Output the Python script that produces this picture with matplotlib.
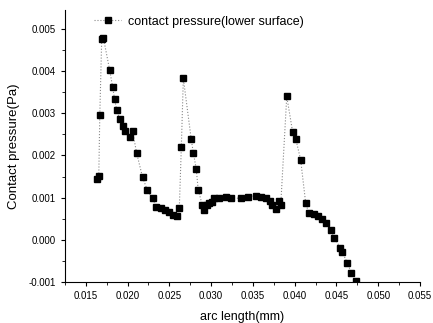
import numpy as np
import matplotlib
matplotlib.use("Agg")
import matplotlib.pyplot as plt
from matplotlib.ticker import MultipleLocator, FormatStrFormatter

plt.rcParams['font.family'] = ['Liberation Sans', 'DejaVu Sans']

# data
arc_length = [0.01630, 0.01655, 0.01667, 0.01690, 0.01710, 0.01786, 0.01821, 0.01845,
              0.01869, 0.01905, 0.01940, 0.01964, 0.02024, 0.02060, 0.02107, 0.02179,
              0.02238, 0.02298, 0.02345, 0.02405, 0.02452, 0.02500, 0.02548, 0.02595,
              0.02619, 0.02643, 0.02667, 0.02762, 0.02786, 0.02821, 0.02845, 0.02893,
              0.02917, 0.02952, 0.02976, 0.03012, 0.03036, 0.03095, 0.03179, 0.03238,
              0.03357, 0.03440, 0.03536, 0.03595, 0.03655, 0.03702, 0.03726, 0.03774,
              0.03810, 0.03833, 0.03905, 0.03976, 0.04012, 0.04071, 0.04131, 0.04167,
              0.04226, 0.04274, 0.04321, 0.04369, 0.04429, 0.04476, 0.04548, 0.04571,
              0.04631, 0.04679, 0.04738]
pressure = [0.00145, 0.00152, 0.00295, 0.00476, 0.00479, 0.00402, 0.00362, 0.00333,
            0.00309, 0.00286, 0.00271, 0.00257, 0.00243, 0.00257, 0.00207, 0.00148,
            0.00117, 0.00098, 0.00079, 0.00076, 0.00071, 0.00067, 0.00060, 0.00057,
            0.00076, 0.00219, 0.00383, 0.00238, 0.00207, 0.00169, 0.00119, 0.00083,
            0.00071, 0.00083, 0.00088, 0.00090, 0.00098, 0.00100, 0.00102, 0.00100,
            0.00098, 0.00102, 0.00105, 0.00102, 0.00100, 0.00093, 0.00083, 0.00074,
            0.00093, 0.00083, 0.00340, 0.00255, 0.00240, 0.00190, 0.00088, 0.00064,
            0.00062, 0.00057, 0.00050, 0.00040, 0.00024, 0.00005, -0.00020, -0.00030,
            -0.00055, -0.00079, -0.00098]

fig = plt.figure(figsize=(4.33, 3.23), dpi=100)
ax = fig.add_axes([0.150, 0.127, 0.820, 0.842])

ax.plot(arc_length, pressure, color="#888888", linestyle=":", linewidth=0.8,
        marker="s", markersize=4, markerfacecolor="black", markeredgecolor="black",
        label="contact pressure(lower surface)")

ax.set_xlim(0.0125, 0.055)
ax.set_ylim(-0.001, 0.00545)
ax.xaxis.set_major_locator(MultipleLocator(0.005))
ax.xaxis.set_minor_locator(MultipleLocator(0.0025))
ax.yaxis.set_major_locator(MultipleLocator(0.001))
ax.yaxis.set_minor_locator(MultipleLocator(0.0005))
ax.xaxis.set_major_formatter(FormatStrFormatter('%.3f'))
ax.yaxis.set_major_formatter(FormatStrFormatter('%.3f'))
ax.tick_params(axis='both', which='major', direction='out', length=3, labelsize=7)
ax.tick_params(axis='both', which='minor', direction='out', length=2)

ax.spines['top'].set_visible(False)
ax.spines['right'].set_visible(False)

ax.set_xlabel("arc length(mm)", fontsize=9, labelpad=7)
ax.set_ylabel("Contact pressure(Pa)", fontsize=9.5, labelpad=6)

ax.legend(loc="upper left", bbox_to_anchor=(0.05, 1.02), frameon=False,
          fontsize=9, handlelength=2.2, handletextpad=0.5)

plt.savefig("out.png", dpi=100)
